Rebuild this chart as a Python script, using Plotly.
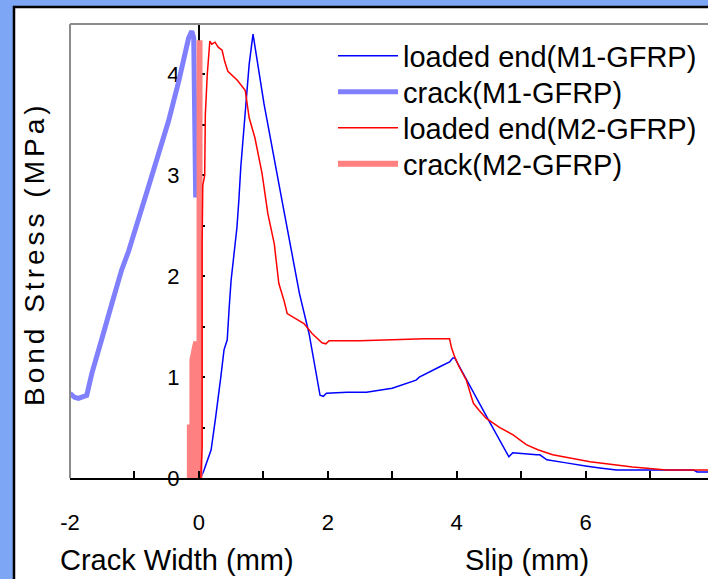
import plotly.graph_objects as go

# ---------------- data ----------------
m1_load_x = [0.03, 0.08, 0.19, 0.26, 0.34, 0.39, 0.44, 0.47, 0.5, 0.59, 0.62, 0.65, 0.73, 0.78, 0.84,
             1.01, 1.29, 1.56, 1.71, 1.88, 1.93, 1.98, 2.3, 2.6, 3.0, 3.37, 3.42, 3.73, 3.89, 3.94, 3.97,
             4.48, 4.81, 4.87, 5.24, 5.29, 5.4, 5.7, 6.0, 6.22, 6.48, 7.67, 7.73, 7.9]
m1_load_y = [0.0, 0.08, 0.28, 0.6, 1.0, 1.27, 1.37, 1.69, 1.96, 2.48, 2.75, 3.08, 3.71, 4.1, 4.40,
             3.71, 2.75, 1.83, 1.43, 0.82, 0.81, 0.84, 0.85, 0.85, 0.89, 0.97, 1.0, 1.1, 1.15, 1.19, 1.19,
             0.59, 0.21, 0.25, 0.23, 0.23, 0.18, 0.15, 0.12, 0.10, 0.08, 0.08, 0.06, 0.06]

m1_crack_x = [-2.0, -1.93, -1.87, -1.74, -1.66, -1.51, -1.35, -1.2, -1.09, -0.8, -0.47, -0.31, -0.16,
              -0.11, -0.08, -0.05]
m1_crack_y = [0.84, 0.80, 0.79, 0.82, 1.04, 1.37, 1.73, 2.06, 2.25, 2.85, 3.54, 3.94, 4.36,
              4.43, 4.36, 2.78]

m2_load_x = [0.03, 0.05, 0.05, 0.05, 0.06, 0.09, 0.1, 0.13, 0.17, 0.2, 0.25, 0.3, 0.36, 0.4, 0.45,
             0.6, 0.72, 0.78, 0.87, 0.98, 1.07, 1.17, 1.24, 1.32, 1.37, 1.63, 1.76, 1.91, 1.97, 2.02,
             2.5, 3.0, 3.5, 3.89, 3.92, 3.97, 4.04, 4.15, 4.23, 4.26, 4.35, 4.46, 4.67, 4.87, 5.08,
             5.26, 5.49, 6.07, 6.73, 7.26, 7.9]
m2_load_y = [0.0, 0.3, 1.3, 2.3, 2.9, 3.0, 3.6, 4.0, 4.33, 4.3, 4.32, 4.27, 4.24, 4.13, 4.03,
             3.94, 3.84, 3.57, 3.37, 3.02, 2.62, 2.32, 1.93, 1.76, 1.63, 1.53, 1.43, 1.34, 1.33, 1.36,
             1.36, 1.37, 1.38, 1.38, 1.29, 1.2, 1.1, 0.97, 0.8, 0.74, 0.67, 0.59, 0.5, 0.43, 0.33,
             0.28, 0.23, 0.16, 0.11, 0.08, 0.08]

m2_crack_x = [-0.14, -0.14, -0.12, -0.1, -0.1, -0.06, -0.04, -0.01, 0.01, 0.01]
m2_crack_y = [0.0, 0.5, 0.5, 0.0, 1.17, 1.3, 1.35, 0.0, 0.0, 4.34]

names = ["loaded end(M1-GFRP)", "crack(M1-GFRP)", "loaded end(M2-GFRP)", "crack(M2-GFRP)"]

x_tickvals = [-2, 0, 2, 4, 6]
x_ticktext = ["-2", "0", "2", "4", "6"]
y_tickvals = [0, 1, 2, 3, 4]
y_ticktext = ["0", "1", "2", "3", "4"]

x_title_left = "Crack Width (mm)"
x_title_right = "Slip (mm)"
y_title = "Bond Stress (MPa)"

# ---------------- figure ----------------
FONT = "Liberation Sans, Arial, sans-serif"
W, H = 708, 579
ML, MR, MT, MB = 70, 0, 24, 101
PW, PH = W - ML - MR, H - MT - MB
XMIN, XMAX = -2.0, 7.9


def px_x(p):
    return (p - ML) / PW


def px_y(p):
    return (H - MB - p) / PH


fig = go.Figure()
fig.add_trace(go.Scatter(x=m1_crack_x, y=m1_crack_y, mode="lines", name=names[1], legend="legend2",
                         line=dict(color="#8080FF", width=5, simplify=False)))
fig.add_trace(go.Scatter(x=m1_load_x, y=m1_load_y, mode="lines", name=names[0], legend="legend",
                         line=dict(color="#0000FF", width=1.5, simplify=False)))
fig.add_trace(go.Scatter(x=m2_crack_x, y=m2_crack_y, mode="lines", name=names[3], legend="legend4",
                         line=dict(color="#FF8080", width=6, simplify=False)))
fig.add_trace(go.Scatter(x=m2_load_x, y=m2_load_y, mode="lines", name=names[2], legend="legend3",
                         line=dict(color="#FF0000", width=1.5, simplify=False)))

shapes = [
    dict(type="rect", xref="paper", yref="paper", x0=px_x(14), x1=1.3, y0=-0.6, y1=px_y(7),
         fillcolor="white", line=dict(color="black", width=2.5), layer="below"),
    dict(type="line", xref="paper", yref="paper", x0=0, x1=0, y0=0, y1=1,
         line=dict(color="#8c8c8c", width=2)),
    dict(type="line", xref="paper", yref="paper", x0=0, x1=1, y0=1, y1=1,
         line=dict(color="#8c8c8c", width=2)),
]

TITLE_FONT = dict(family=FONT, size=29, color="black")
annotations = [
    dict(text=x_title_left, xref="x", yref="paper", x=-0.34, y=px_y(560), showarrow=False,
         xanchor="center", yanchor="middle", font=TITLE_FONT),
    dict(text=x_title_right, xref="x", yref="paper", x=5.09, y=px_y(560), showarrow=False,
         xanchor="center", yanchor="middle", font=TITLE_FONT),
    dict(text=y_title, xref="paper", yref="paper", x=px_x(35), y=px_y(254), showarrow=False,
         textangle=-90, xanchor="center", yanchor="middle",
         font=dict(family=FONT, size=28, color="black")),
]


def leg(row_center):
    return dict(x=px_x(333), y=px_y(row_center), xanchor="left", yanchor="middle",
                bgcolor="rgba(0,0,0,0)", borderwidth=0, itemwidth=60,
                font=dict(family=FONT, size=29, color="black"))


fig.update_layout(
    width=W, height=H,
    margin=dict(l=ML, r=MR, t=MT, b=MB, pad=0),
    paper_bgcolor="#7DA7F5",
    plot_bgcolor="white",
    font=dict(family=FONT, color="black"),
    shapes=shapes,
    annotations=annotations,
    showlegend=True,
    legend=leg(56),
    legend2=leg(92),
    legend3=leg(128),
    legend4=leg(164),
    xaxis=dict(range=[XMIN, XMAX], showline=True, linecolor="black", linewidth=2,
               tickmode="array", tickvals=x_tickvals, ticktext=x_ticktext,
               ticks="inside", ticklen=7, tickwidth=1.5, tickcolor="black",
               minor=dict(tickmode="linear", tick0=0, dtick=1, ticks="inside", ticklen=7,
                          tickwidth=1.5, tickcolor="black"),
               showgrid=False, zeroline=False, ticklabelstandoff=24,
               tickfont=dict(family=FONT, size=22, color="black")),
    yaxis=dict(range=[0, 4.5], anchor="free", position=(0 - XMIN) / (XMAX - XMIN), side="left",
               showline=True, linecolor="black", linewidth=2, layer="below traces",
               tickmode="array", tickvals=y_tickvals, ticktext=y_ticktext,
               ticks="inside", ticklen=5, tickwidth=1.5, tickcolor="black",
               minor=dict(tickmode="linear", tick0=0, dtick=0.5, ticks="inside", ticklen=5,
                          tickwidth=1.5, tickcolor="black"),
               showgrid=False, zeroline=False, ticklabelstandoff=14,
               tickfont=dict(family=FONT, size=22, color="black")),
)

post = """
document.querySelectorAll('.annotation-text').forEach(function(t){
  if (t.textContent.indexOf('Bond') === 0) { t.style.letterSpacing = '4px'; }
});
"""

fig.write_html("out.html", post_script=post)
